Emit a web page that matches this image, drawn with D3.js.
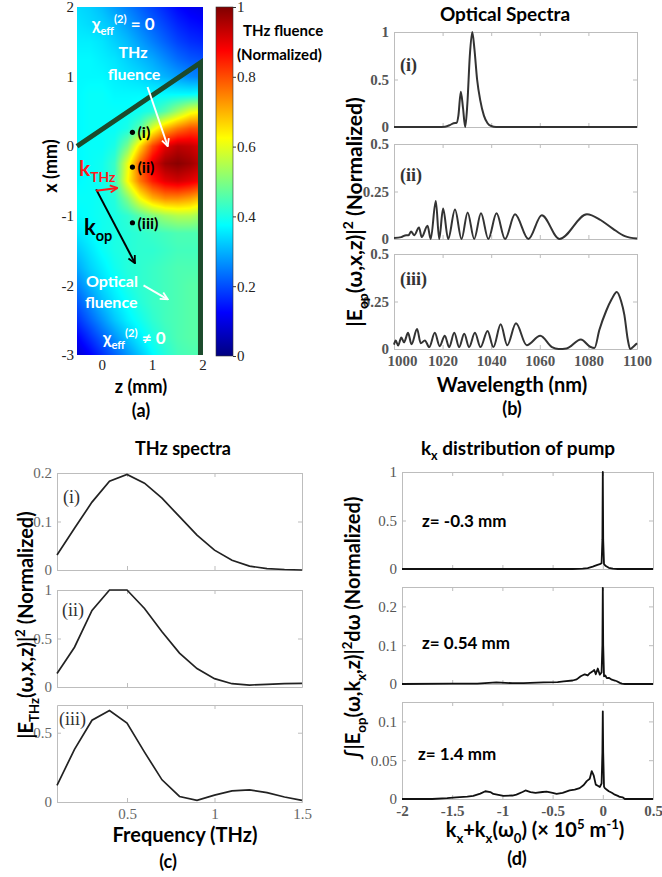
<!DOCTYPE html>
<html>
<head>
<meta charset="utf-8">
<script src="https://cdnjs.cloudflare.com/ajax/libs/d3/7.8.5/d3.min.js"></script>
<style>
  body { margin: 0; background: #fff; }
  svg { display: block; }
</style>
</head>
<body>
<svg id="fig" width="662" height="877"></svg>
<script>
// ---------------- Data ----------------
// (a) normalized THz fluence on a (z, x) grid, mm
const zGrid = [-0.5, -0.25, 0, 0.25, 0.5, 0.75, 1, 1.25, 1.5, 1.75, 2];
const xGrid = [2, 1.75, 1.5, 1.25, 1, 0.75, 0.5, 0.25, 0, -0.25, -0.5, -0.75, -1,
               -1.25, -1.5, -1.75, -2, -2.25, -2.5, -2.75, -3];
const fluence = [
  [0.34,0.33,0.31,0.28,0.25,0.22,0.19,0.16,0.13,0.11,0.10],
  [0.35,0.34,0.33,0.31,0.28,0.25,0.22,0.19,0.16,0.14,0.13],
  [0.36,0.36,0.35,0.33,0.31,0.28,0.25,0.22,0.19,0.17,0.16],
  [0.37,0.37,0.36,0.35,0.33,0.31,0.29,0.26,0.23,0.21,0.20],
  [0.37,0.37,0.37,0.36,0.35,0.34,0.32,0.30,0.28,0.26,0.25],
  [0.37,0.38,0.38,0.37,0.37,0.37,0.37,0.37,0.37,0.37,0.38],
  [0.37,0.38,0.38,0.38,0.38,0.39,0.41,0.46,0.53,0.60,0.63],
  [0.37,0.38,0.38,0.38,0.40,0.46,0.60,0.70,0.76,0.80,0.80],
  [0.37,0.38,0.38,0.40,0.49,0.66,0.81,0.90,0.94,0.93,0.90],
  [0.37,0.38,0.39,0.43,0.60,0.78,0.90,0.97,0.99,0.97,0.93],
  [0.37,0.38,0.39,0.43,0.62,0.76,0.85,0.90,0.92,0.90,0.87],
  [0.38,0.38,0.39,0.41,0.50,0.62,0.70,0.74,0.74,0.72,0.68],
  [0.37,0.38,0.39,0.40,0.42,0.46,0.50,0.53,0.55,0.55,0.52],
  [0.35,0.37,0.39,0.40,0.41,0.42,0.43,0.44,0.45,0.45,0.45],
  [0.32,0.35,0.38,0.40,0.41,0.42,0.42,0.43,0.44,0.44,0.44],
  [0.29,0.33,0.36,0.39,0.41,0.42,0.43,0.44,0.45,0.45,0.45],
  [0.25,0.30,0.34,0.37,0.40,0.42,0.43,0.44,0.45,0.46,0.46],
  [0.21,0.26,0.31,0.35,0.38,0.41,0.43,0.44,0.45,0.46,0.46],
  [0.17,0.22,0.27,0.32,0.36,0.39,0.42,0.44,0.45,0.46,0.46],
  [0.12,0.17,0.22,0.27,0.32,0.36,0.40,0.43,0.45,0.46,0.46],
  [0.08,0.12,0.17,0.22,0.27,0.32,0.37,0.41,0.44,0.45,0.45]
];
const zTicks = [0, 1, 2];
const xTicks = [-3, -2, -1, 0, 1, 2];
const fluenceTicks = [0, 0.2, 0.4, 0.6, 0.8, 1];
const crystalEdge = [[-0.5, 0], [1.95, 1.2], [1.95, -3]];
const probes = [
  { label: '(i)', z: 0.6, x: 0.2 },
  { label: '(ii)', z: 0.6, x: -0.3 },
  { label: '(iii)', z: 0.6, x: -1.1 }
];

// (b) optical spectra, wavelength (nm) vs normalized power
const wavelengthTicks = [1000, 1020, 1040, 1060, 1080, 1100];
const opticalI = [
  [1000,0],[1018,0],[1021,0.003],[1023,0.02],[1024.5,0.04],[1025.8,0.045],[1026.5,0.12],
  [1027.5,0.37],[1028.4,0.2],[1029.3,0],[1030.2,0.25],[1031.2,0.75],[1032.2,1],[1033.1,0.82],
  [1034.2,0.5],[1035.5,0.28],[1037,0.12],[1038.5,0.04],[1040,0.01],[1042,0],[1100,0]
];
const opticalII = [
  [1000,0.005],[1003,0.01],[1005,0.02],[1006,0.02],[1007,0.04],[1008.3,0.02],[1010.3,0.06],
  [1011.4,0.01],[1013.8,0.07],[1015.1,0],[1017.2,0.2],[1018.6,0],[1020.2,0.16],[1022.3,0],
  [1025.1,0.155],[1027.8,0],[1030.3,0.14],[1033,0],[1035.8,0.135],[1038.8,0],[1042.2,0.135],
  [1045.7,0],[1049.8,0.13],[1055.3,0],[1060.8,0.125],[1068.1,0],[1079.4,0.13],[1085,0.1],
  [1090,0.055],[1095,0.015],[1100,0.002]
];
const opticalIII = [
  [1000,0.023],[1000.7,0.045],[1001.7,0.018],[1003,0.06],[1004.1,0.035],[1005.8,0.085],
  [1007.2,0.025],[1009.5,0.105],[1011,0.03],[1012.7,0.045],[1014.5,0.01],[1016.8,0.085],
  [1018.8,0.015],[1020.9,0.07],[1022.7,0.01],[1024.8,0.085],[1026.8,0.01],[1028.9,0.08],
  [1030.9,0.01],[1033.3,0.085],[1035.6,0.01],[1038.5,0.095],[1040.9,0.01],[1043.9,0.13],
  [1046.6,0.02],[1050.2,0.135],[1054.6,0.02],[1060.2,0.07],[1065,0.01],[1067.7,0],
  [1071,0.003],[1076.9,0.05],[1080.7,0.012],[1082.5,0.005],[1084.5,0.1],[1087.3,0.2],
  [1089.5,0.26],[1091.7,0.3],[1093.5,0.25],[1094.8,0.18],[1096.2,0.05],[1097.2,0],
  [1098.5,0.012],[1100,0.03]
];

// (c) THz spectra, frequency (THz) vs normalized power
const thzFreq = [0.1,0.2,0.3,0.4,0.5,0.6,0.7,0.8,0.9,1.0,1.1,1.2,1.3,1.4,1.5];
const thzI   = [0.031,0.086,0.14,0.183,0.197,0.179,0.148,0.11,0.072,0.041,0.02,0.008,0.003,0.001,0];
const thzII  = [0.14,0.41,0.79,1.0,1.0,0.81,0.57,0.35,0.19,0.086,0.034,0.02,0.028,0.034,0.038];
const thzIII = [0.12,0.38,0.59,0.66,0.57,0.36,0.16,0.04,0.012,0.05,0.08,0.087,0.068,0.036,0.012];
const freqTicks = [0.5, 1, 1.5];

// (d) kx distribution of pump, kx + kx(w0) (1e5 1/m) vs normalized integral
const kxTicks = [-2, -1.5, -1, -0.5, 0, 0.5];
const kxZm03 = [
  [-2,0],[-0.3,0],[-0.2,0.003],[-0.15,0.01],[-0.1,0.025],[-0.06,0.04],[-0.03,0.05],
  [-0.012,0.06],[-0.004,0.3],[0,1],[0.004,0.3],[0.012,0.05],[0.03,0.03],[0.06,0.012],
  [0.1,0.004],[0.15,0],[0.5,0]
];
const kxZ054 = [
  [-2,0],[-1.5,0.001],[-1.25,0.001],[-1.06,0.004],[-0.9,0.002],[-0.79,0.002],[-0.59,0.004],
  [-0.45,0.005],[-0.39,0.007],[-0.3,0.009],[-0.26,0.012],[-0.22,0.02],[-0.18,0.025],
  [-0.15,0.022],[-0.13,0.028],[-0.1,0.033],[-0.085,0.036],[-0.07,0.025],[-0.05,0.04],
  [-0.03,0.024],[-0.012,0.03],[-0.004,0.1],[0,0.248],[0.004,0.1],[0.012,0.02],[0.025,0.022],
  [0.04,0.015],[0.06,0.016],[0.09,0.011],[0.12,0.009],[0.14,0.007],[0.17,0.003],
  [0.19,0.001],[0.22,0],[0.5,0]
];
const kxZ14 = [
  [-2,0],[-1.7,0],[-1.55,0.001],[-1.46,0.002],[-1.35,0.003],[-1.29,0.004],[-1.22,0.007],
  [-1.17,0.01],[-1.12,0.009],[-1.09,0.0065],[-0.99,0.004],[-0.9,0.0045],[-0.86,0.0056],
  [-0.8,0.009],[-0.77,0.011],[-0.72,0.009],[-0.67,0.008],[-0.6,0.009],[-0.56,0.0095],
  [-0.5,0.008],[-0.46,0.0065],[-0.4,0.008],[-0.33,0.011],[-0.28,0.012],[-0.23,0.014],
  [-0.19,0.018],[-0.16,0.023],[-0.13,0.026],[-0.11,0.036],[-0.09,0.03],[-0.07,0.0185],
  [-0.05,0.017],[-0.03,0.0155],[-0.012,0.02],[-0.004,0.06],[0,0.113],[0.004,0.06],
  [0.012,0.016],[0.02,0.014],[0.04,0.012],[0.06,0.01],[0.09,0.008],[0.12,0.0056],
  [0.15,0.004],[0.17,0.0026],[0.2,0.002],[0.22,0],[0.5,0]
];

// ---------------- Helpers ----------------
const SANS = 'Lato, "Open Sans", sans-serif';
const SERIF = '"Liberation Serif", "DejaVu Serif", serif';
const svg = d3.select('#fig');
const defs = svg.append('defs');

const jet = d3.scaleLinear()
  .domain([0, 0.125, 0.375, 0.625, 0.875, 1])
  .range(['#00007f', '#0000ff', '#00ffff', '#ffff00', '#ff0000', '#7f0000'])
  .clamp(true);

// text with sub/superscript segments
function label(g, x, y, segs, o = {}) {
  const size = o.size || 18;
  const t = g.append('text').attr('x', x).attr('y', y)
    .attr('font-family', o.family || SANS).attr('font-weight', o.weight || 700)
    .attr('font-size', size).attr('fill', o.fill || '#000')
    .attr('text-anchor', o.anchor || 'start').style('white-space', 'pre');
  if (o.rotate) t.attr('transform', `rotate(-90,${x},${y})`);
  let shift = 0;
  (typeof segs === 'string' ? [{ t: segs }] : segs).forEach(s => {
    const target = s.sub ? size * 0.28 : s.sup ? -size * 0.42 : 0;
    t.append('tspan').attr('dy', target - shift)
      .attr('font-size', (s.sub || s.sup) ? size * 0.66 : size).text(s.t);
    shift = target;
  });
  return t;
}

function arrowMarker(id, color) {
  defs.append('marker').attr('id', id).attr('viewBox', '0 0 10 10')
    .attr('refX', 9).attr('refY', 5).attr('markerWidth', 9).attr('markerHeight', 9)
    .attr('markerUnits', 'userSpaceOnUse').attr('orient', 'auto')
    .append('path').attr('d', 'M1,1 L9,5 L1,9').attr('fill', 'none')
    .attr('stroke', color).attr('stroke-width', 2);
}
arrowMarker('arrWhite', '#fff');
arrowMarker('arrRed', '#ff1a1a');
arrowMarker('arrBlack', '#000');

// boxed axes with inward ticks on all four sides
function framedAxes(g, x, y, o) {
  const [x0, x1] = x.range();
  const [y0, y1] = y.range();
  const fmt = d => String(d);
  const none = () => '';
  const frame = o.frame || '#bdbdbd';
  const b = g.append('g').attr('transform', `translate(0,${y0})`)
    .call(d3.axisBottom(x).tickValues(o.xTicks).tickSize(-4).tickSizeOuter(0)
      .tickPadding(o.xPad || 5).tickFormat(o.xLabels ? fmt : none));
  const t = g.append('g').attr('transform', `translate(0,${y1})`)
    .call(d3.axisTop(x).tickValues(o.xTicks).tickSize(-4).tickSizeOuter(0).tickFormat(none));
  const l = g.append('g').attr('transform', `translate(${x0},0)`)
    .call(d3.axisLeft(y).tickValues(o.yTicks).tickSize(-4).tickSizeOuter(0)
      .tickPadding(o.yPad || 5).tickFormat(fmt));
  const r = g.append('g').attr('transform', `translate(${x1},0)`)
    .call(d3.axisRight(y).tickValues(o.yTicks).tickSize(-4).tickSizeOuter(0).tickFormat(none));
  [b, t, l, r].forEach(a => {
    a.selectAll('path.domain').attr('stroke', frame);
    a.selectAll('line').attr('stroke', frame);
  });
  [b, l].forEach(a => a.selectAll('text')
    .attr('font-family', SERIF).attr('font-size', o.fs || 15)
    .attr('font-weight', o.fw || 'normal').attr('fill', o.tc || '#555'));
  return { b, l };
}

// ---------------- (a) THz fluence map ----------------
const gA = svg.append('g');
const zScale = d3.scaleLinear().domain([-0.5, 2]).range([77, 203]);
const xScale = d3.scaleLinear().domain([-3, 2]).range([355, 7]);
{
  const px0 = zScale.range()[0], py0 = xScale.range()[1];
  const pw = Math.round(zScale.range()[1] - px0);
  const ph = Math.round(xScale.range()[0] - py0);
  const zi = d3.scaleLinear().domain([zGrid[0], zGrid[zGrid.length - 1]])
    .range([0, zGrid.length - 1]).clamp(true);
  const xi = d3.scaleLinear().domain([xGrid[0], xGrid[xGrid.length - 1]])
    .range([0, xGrid.length - 1]).clamp(true);
  const canvas = document.createElement('canvas');
  canvas.width = pw; canvas.height = ph;
  const ctx = canvas.getContext('2d');
  const img = ctx.createImageData(pw, ph);
  for (let j = 0; j < ph; j++) {
    const fj = xi(xScale.invert(py0 + j + 0.5));
    const j0 = Math.min(Math.floor(fj), xGrid.length - 2), tj = fj - j0;
    for (let i = 0; i < pw; i++) {
      const fi = zi(zScale.invert(px0 + i + 0.5));
      const i0 = Math.min(Math.floor(fi), zGrid.length - 2), ti = fi - i0;
      const v = (1 - tj) * ((1 - ti) * fluence[j0][i0] + ti * fluence[j0][i0 + 1]) +
                tj * ((1 - ti) * fluence[j0 + 1][i0] + ti * fluence[j0 + 1][i0 + 1]);
      const c = d3.rgb(jet(v));
      const k = (j * pw + i) * 4;
      img.data[k] = c.r; img.data[k + 1] = c.g; img.data[k + 2] = c.b; img.data[k + 3] = 255;
    }
  }
  ctx.putImageData(img, 0, 0);
  gA.append('image').attr('href', canvas.toDataURL())
    .attr('x', px0).attr('y', py0).attr('width', pw).attr('height', ph)
    .attr('preserveAspectRatio', 'none');
}
// crystal boundary
gA.append('path')
  .attr('d', d3.line().x(d => zScale(d[0])).y(d => xScale(d[1]))(crystalEdge))
  .attr('fill', 'none').attr('stroke', '#1c4a2c').attr('stroke-width', 5);

// axis tick labels
gA.selectAll('.xt').data(xTicks).join('text')
  .attr('x', 74).attr('y', d => xScale(d)).attr('dy', '0.35em')
  .attr('text-anchor', 'end').attr('font-family', SERIF).attr('font-size', 15)
  .attr('fill', '#222').text(d => String(d));
gA.selectAll('.zt').data(zTicks).join('text')
  .attr('x', d => zScale(d)).attr('y', 370)
  .attr('text-anchor', 'middle').attr('font-family', SERIF).attr('font-size', 15)
  .attr('fill', '#222').text(d => String(d));
label(gA, 141, 393, 'z (mm)', { size: 18, anchor: 'middle' });
label(gA, 57, 166, 'x (mm)', { size: 18, anchor: 'middle', rotate: true });
label(gA, 141, 417, '(a)', { size: 18, anchor: 'middle' });

// probe positions
gA.selectAll('circle.probe').data(probes).join('circle')
  .attr('cx', d => zScale(d.z)).attr('cy', d => xScale(d.x)).attr('r', 2.6).attr('fill', '#000');
gA.selectAll('text.probe').data(probes).join('text')
  .attr('x', d => zScale(d.z) + 5).attr('y', d => xScale(d.x) + 6)
  .attr('font-family', SANS).attr('font-weight', 700).attr('font-size', 16)
  .attr('fill', '#000').text(d => d.label);

// annotations
const arrowLine = d3.line().x(d => zScale(d[0])).y(d => xScale(d[1]));
gA.append('path').attr('d', arrowLine([[0.9, 0.85], [1.3, 0.0]]))
  .attr('stroke', '#fff').attr('stroke-width', 2).attr('marker-end', 'url(#arrWhite)');
gA.append('path').attr('d', arrowLine([[0.82, -2.0], [1.3, -2.2]]))
  .attr('stroke', '#fff').attr('stroke-width', 2).attr('marker-end', 'url(#arrWhite)');
gA.append('path').attr('d', arrowLine([[-0.12, -0.62], [0.65, -1.68]]))
  .attr('stroke', '#000').attr('stroke-width', 2).attr('marker-end', 'url(#arrBlack)');
gA.append('path').attr('d', arrowLine([[-0.12, -0.64], [0.3, -0.6]]))
  .attr('stroke', '#ff1a1a').attr('stroke-width', 2).attr('marker-end', 'url(#arrRed)');

label(gA, 92, 30, [{ t: 'χ' }, { t: 'eff', sub: true }, { t: '(2)', sup: true }, { t: ' = 0' }],
  { size: 17, fill: '#fff' });
label(gA, 133, 58, 'THz', { size: 16, fill: '#fff', anchor: 'middle' });
label(gA, 134, 80, 'fluence', { size: 16, fill: '#fff', anchor: 'middle' });
label(gA, 79, 176, [{ t: 'k' }, { t: 'THz', sub: true }], { size: 21, fill: '#ff1a1a' });
label(gA, 84, 235, [{ t: 'k' }, { t: 'op', sub: true }], { size: 22, fill: '#000' });
label(gA, 86, 287, 'Optical', { size: 16, fill: '#fff' });
label(gA, 85, 308, 'fluence', { size: 16, fill: '#fff' });
label(gA, 103, 344, [{ t: 'χ' }, { t: 'eff', sub: true }, { t: '(2)', sup: true }, { t: ' ≠ 0' }],
  { size: 17, fill: '#fff' });

// colour bar
{
  const cb = d3.scaleLinear().domain([0, 1]).range([356, 7]);
  const grad = defs.append('linearGradient').attr('id', 'jetGrad')
    .attr('x1', 0).attr('y1', 1).attr('x2', 0).attr('y2', 0);
  jet.domain().forEach(s => grad.append('stop').attr('offset', s).attr('stop-color', jet(s)));
  gA.append('rect').attr('x', 216).attr('y', cb(1)).attr('width', 17)
    .attr('height', cb(0) - cb(1)).attr('fill', 'url(#jetGrad)')
    .attr('stroke', '#333').attr('stroke-width', 0.6);
  const ax = gA.append('g').attr('transform', 'translate(233,0)')
    .call(d3.axisRight(cb).tickValues(fluenceTicks).tickSize(3).tickSizeOuter(0)
      .tickPadding(1).tickFormat(d => String(d)));
  ax.select('path.domain').remove();
  ax.selectAll('line').attr('stroke', '#333');
  ax.selectAll('text').attr('font-family', SERIF).attr('font-size', 15).attr('fill', '#222');
  label(gA, 243, 36, 'THz fluence', { size: 15 });
  label(gA, 237, 60, '(Normalized)', { size: 15 });
}

// ---------------- (b) Optical spectra ----------------
const gB = svg.append('g');
const wl = d3.scaleLinear().domain([1000, 1100]).range([394, 637]);
const specPanels = [
  { name: '(i)', data: opticalI, top: 32, yMax: 1, yTicks: [0, 0.5, 1], ly: 71 },
  { name: '(ii)', data: opticalII, top: 144, yMax: 0.5, yTicks: [0, 0.25, 0.5], ly: 181 },
  { name: '(iii)', data: opticalIII, top: 254, yMax: 0.5, yTicks: [0, 0.25, 0.5], ly: 285 }
];
specPanels.forEach((p, idx) => {
  const y = d3.scaleLinear().domain([0, p.yMax]).range([p.top + 95, p.top]);
  const last = idx === specPanels.length - 1;
  const ax = framedAxes(gB, wl, y, { xTicks: wavelengthTicks, yTicks: p.yTicks, xLabels: last,
    fw: 'bold', tc: '#555', fs: 15, xPad: 6 });
  if (last) ax.b.selectAll('.tick text').filter((d, i) => i === 0).attr('dx', 8);
  gB.append('path').datum(p.data)
    .attr('d', d3.line().x(d => wl(d[0])).y(d => y(d[1])).curve(d3.curveMonotoneX))
    .attr('fill', 'none').attr('stroke', '#333').attr('stroke-width', 2);
  label(gB, 400, p.ly, p.name, { family: SERIF, size: 18, fill: '#333' });
});
label(gB, 505, 21, 'Optical Spectra', { size: 19, anchor: 'middle' });
label(gB, 512, 392, 'Wavelength (nm)', { size: 20, anchor: 'middle' });
label(gB, 512, 415, '(b)', { size: 18, anchor: 'middle' });
label(gB, 362, 212, [{ t: '|E' }, { t: 'op', sub: true }, { t: '(ω,x,z)|' }, { t: '2', sup: true },
  { t: ' (Normalized)' }], { size: 21, anchor: 'middle', rotate: true });

// ---------------- (c) THz spectra ----------------
const gC = svg.append('g');
const fq = d3.scaleLinear().domain([0.1, 1.5]).range([57, 302]);
const thzPanels = [
  { name: '(i)', vals: thzI, top: 473, yMax: 0.2, yTicks: [0, 0.1, 0.2], ly: 503, lx: 63 },
  { name: '(ii)', vals: thzII, top: 590, yMax: 1, yTicks: [0, 0.5, 1], ly: 616, lx: 62 },
  { name: '(iii)', vals: thzIII, top: 705, yMax: 0.7, yTicks: [0, 0.5], ly: 725, lx: 59 }
];
thzPanels.forEach((p, idx) => {
  const y = d3.scaleLinear().domain([0, p.yMax]).range([p.top + 97, p.top]);
  framedAxes(gC, fq, y, { xTicks: freqTicks, yTicks: p.yTicks, xLabels: idx === 2,
    tc: '#666', fs: 15, xPad: 6 });
  gC.append('path').datum(thzFreq.map((f, i) => [f, p.vals[i]]))
    .attr('d', d3.line().x(d => fq(d[0])).y(d => y(d[1])))
    .attr('fill', 'none').attr('stroke', '#222').attr('stroke-width', 1.7);
  label(gC, p.lx, p.ly, p.name, { family: SERIF, weight: 400, size: 18, fill: '#333' });
});
label(gC, 183, 455, 'THz spectra', { size: 18, anchor: 'middle' });
label(gC, 185, 842, 'Frequency (THz)', { size: 20, anchor: 'middle' });
label(gC, 168, 868, '(c)', { size: 18, anchor: 'middle' });
label(gC, 33, 625, [{ t: '|E' }, { t: 'THz', sub: true }, { t: '(ω,x,z)|' }, { t: '2', sup: true },
  { t: ' (Normalized)' }], { size: 20, anchor: 'middle', rotate: true });

// ---------------- (d) kx distribution ----------------
const gD = svg.append('g');
const kx = d3.scaleLinear().domain([-2, 0.5]).range([402, 653]);
const kxPanels = [
  { name: 'z= -0.3 mm', data: kxZm03, top: 472, yMax: 1, yTicks: [0, 0.5, 1], lx: 422, ly: 527 },
  { name: 'z= 0.54 mm', data: kxZ054, top: 587, yMax: 0.25, yTicks: [0, 0.1, 0.2], lx: 422, ly: 649 },
  { name: 'z= 1.4 mm', data: kxZ14, top: 702, yMax: 0.125, yTicks: [0, 0.05, 0.1], lx: 418, ly: 760 }
];
kxPanels.forEach((p, idx) => {
  const y = d3.scaleLinear().domain([0, p.yMax]).range([p.top + 97, p.top]);
  const ax = framedAxes(gD, kx, y, { xTicks: kxTicks, yTicks: p.yTicks, xLabels: idx === 2,
    tc: '#555', fs: 15, xPad: 6 });
  if (idx === 2) ax.b.selectAll('text').attr('font-weight', 'bold');
  gD.append('path').datum(p.data)
    .attr('d', d3.line().x(d => kx(d[0])).y(d => y(d[1])))
    .attr('fill', 'none').attr('stroke', '#111').attr('stroke-width', 1.8)
    .attr('stroke-linejoin', 'round');
  label(gD, p.lx, p.ly, p.name, { size: 17 });
});
label(gD, 518, 455, [{ t: 'k' }, { t: 'x', sub: true }, { t: ' distribution of pump' }],
  { size: 19, anchor: 'middle' });
label(gD, 535, 837, [{ t: 'k' }, { t: 'x', sub: true }, { t: '+k' }, { t: 'x', sub: true },
  { t: '(ω' }, { t: '0', sub: true }, { t: ') (× 10' }, { t: '5', sup: true }, { t: ' m' },
  { t: '-1', sup: true }, { t: ')' }], { size: 20, anchor: 'middle' });
label(gD, 517, 865, '(d)', { size: 18, anchor: 'middle' });
label(gD, 360, 628, [{ t: '∫|E' }, { t: 'op', sub: true }, { t: '(ω,k' }, { t: 'x', sub: true },
  { t: ',z)|' }, { t: '2', sup: true }, { t: 'dω (Normalized)' }],
  { size: 20, anchor: 'middle', rotate: true });
</script>
</body>
</html>
